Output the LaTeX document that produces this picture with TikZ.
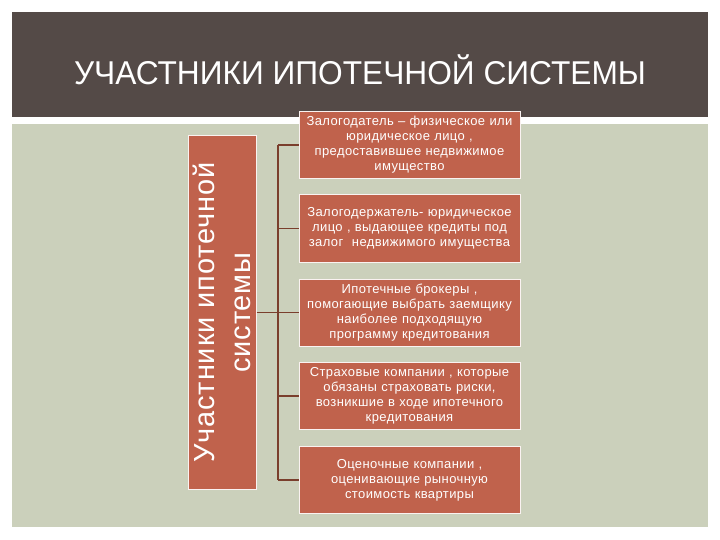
\documentclass[tikz,border=0pt]{standalone}
\usepackage{fontspec}
\setmainfont{Liberation Sans}
\newfontfamily\spacedfont[LetterSpace=3]{Liberation Sans}
\newfontfamily\widefont[LetterSpace=3]{Liberation Sans}
\usepackage{tikz}
\usetikzlibrary{positioning,calc}
\definecolor{bandbrown}{RGB}{84,74,71}
\definecolor{sage}{RGB}{203,208,187}
\definecolor{terra}{RGB}{192,98,76}
\definecolor{linkbrown}{RGB}{122,62,44}

\begin{document}
\begin{tikzpicture}[x=1pt, y=-1pt,
  heading/.style={font=\fontsize{33}{33}\selectfont\color{white}},
  member/.style={rectangle, draw=white!92!terra, line width=1pt, fill=terra,
    minimum width=221pt, minimum height=67pt, text width=216pt, align=center,
    inner sep=2pt, text=white, font=\spacedfont\fontsize{13}{15}\selectfont},
  group/.style={rectangle, draw=white!92!terra, line width=1pt, fill=terra,
    minimum width=353pt, minimum height=68pt, align=center, rotate=90,
    inner sep=1pt, text=white, font=\widefont\fontsize{29}{36}\selectfont},
  link/.style={draw=linkbrown, line width=1.6pt}]
\useasboundingbox (0,0) rectangle (720,540);
\fill[white] (0,0) rectangle (720,540);
\fill[bandbrown] (12,12) rectangle (708,117);
\fill[sage] (12,124) rectangle (708,527);
\node (h) at (360, 70) [heading, xscale=0.96] {УЧАСТНИКИ ИПОТЕЧНОЙ СИСТЕМЫ};
\node (m) at (222, 312.5) [group] {Участники ипотечной\\системы};
\node (a) at (409.5, 145) [member] {Залогодатель – физическое или\\юридическое лицо ,\\предоставившее недвижимое\\имущество};
\node (b) at (409.5, 228.5) [member] {Залогодержатель- юридическое\\лицо , выдающее кредиты под\\залог \ недвижимого имущества};
\node (c) at (409.5, 312.5) [member] {Ипотечные брокеры ,\\помогающие выбрать заемщику\\наиболее подходящую\\программу кредитования};
\node (d) at (409.5, 396) [member] {Страховые компании , которые\\обязаны страховать риски,\\возникшие в ходе ипотечного\\кредитования};
\node (e) at (409.5, 480) [member] {Оценочные компании ,\\оценивающие рыночную\\стоимость квартиры};
\coordinate (j) at (278, 312.5);
\draw [link] (m.south) -- (j);
\draw [link] (j |- a.west) -- (j |- e.west);
\foreach \n in {a,b,c,d,e}
  \draw [link] (j |- \n.west) -- (\n.west);
\end{tikzpicture}
\end{document}
